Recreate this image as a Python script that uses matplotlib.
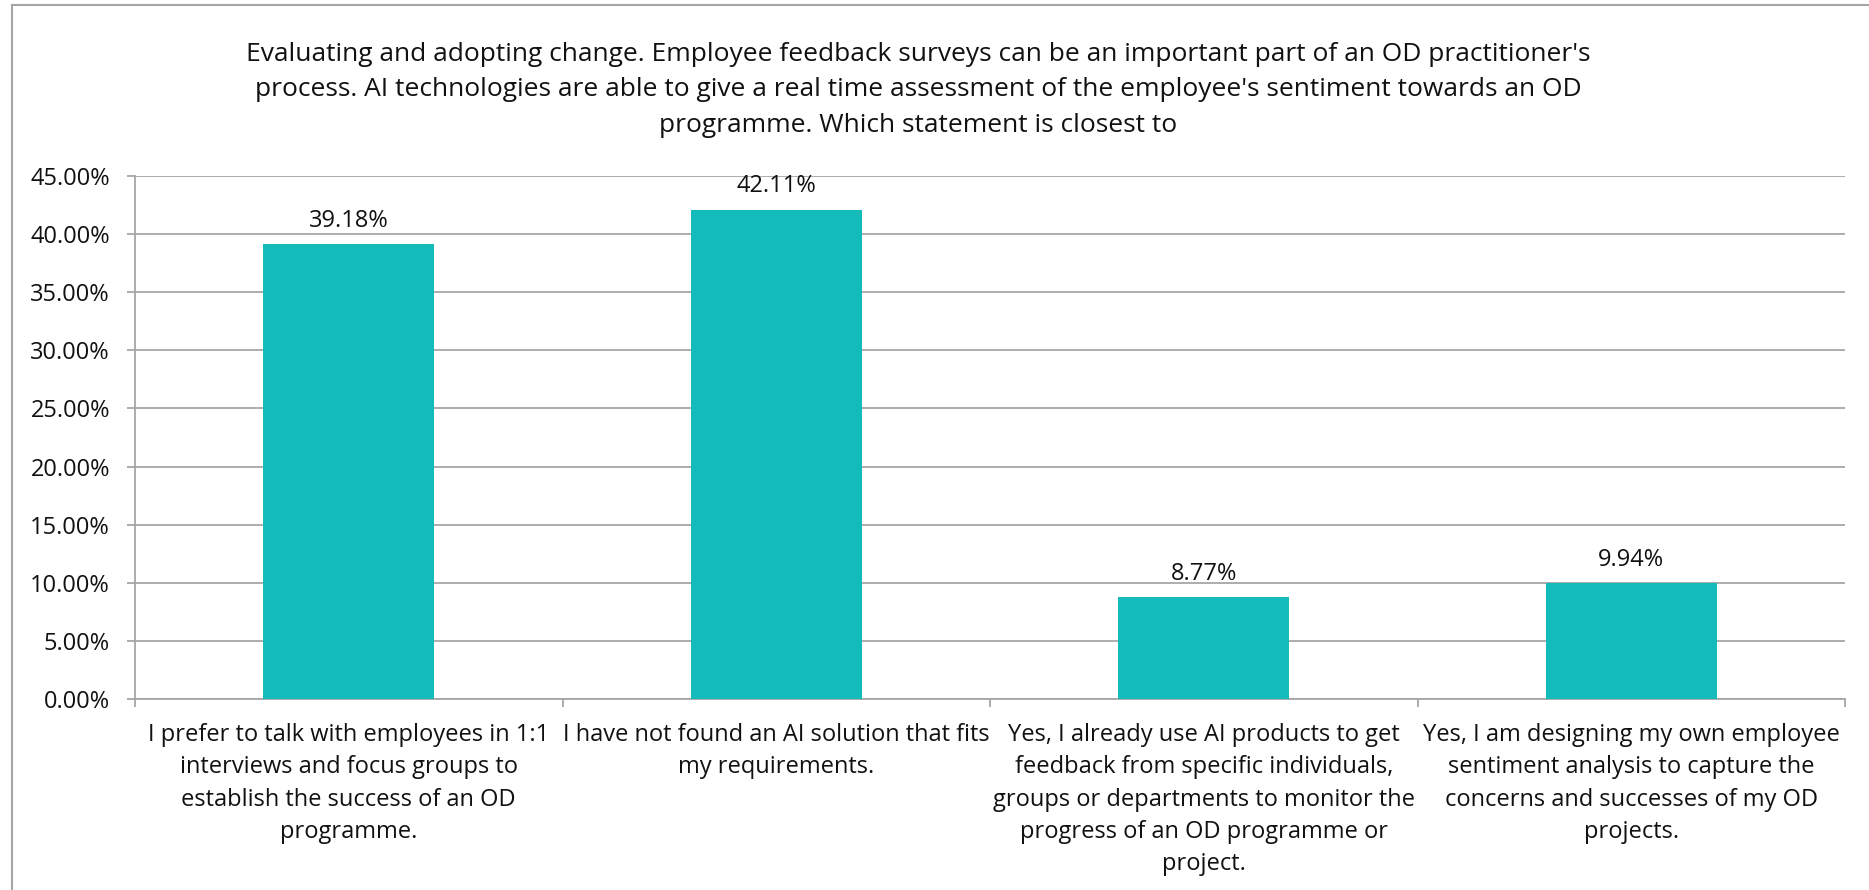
import matplotlib.pyplot as plt
from matplotlib.lines import Line2D
from matplotlib.ticker import FuncFormatter, MultipleLocator

plt.rcParams['font.family'] = ['Open Sans', 'DejaVu Sans']

title = ("Evaluating and adopting change. Employee feedback surveys can be an important part of an OD practitioner's\n"
         "process. AI technologies are able to give a real time assessment of the employee's sentiment towards an OD\n"
         "programme. Which statement is closest to")
categories = [
    "I prefer to talk with employees in 1:1\ninterviews and focus groups to\nestablish the success of an OD\nprogramme.",
    "I have not found an AI solution that fits\nmy requirements.",
    "Yes, I already use AI products to get\nfeedback from specific individuals,\ngroups or departments to monitor the\nprogress of an OD programme or\nproject.",
    "Yes, I am designing my own employee\nsentiment analysis to capture the\nconcerns and successes of my OD\nprojects.",
]
values = [39.18, 42.11, 8.77, 9.94]

bar_color = '#13BBBB'
grid_color = '#A6A6A6'
text_color = '#111111'

fig = plt.figure(figsize=(18.69, 8.90), dpi=100)
ax = fig.add_axes([135 / 1869, 1 - 699 / 890, 1710 / 1869, 523 / 890])

x = list(range(len(values)))
ax.bar(x, values, width=0.4, color=bar_color, zorder=3)
for xi, v in zip(x, values):
    ax.annotate(f"{v:.2f}%", (xi, v), xytext=(0, 8), textcoords='offset points',
                ha='center', va='bottom', fontsize=17, color=text_color)

ax.set_xlim(-0.5, len(values) - 0.5)
ax.set_ylim(0, 45)
ax.yaxis.set_major_locator(MultipleLocator(5))
ax.yaxis.set_major_formatter(FuncFormatter(lambda v, p: f"{v:.2f}%"))
ax.grid(axis='y', color=grid_color, linewidth=1.3, zorder=0)

ax.set_xticks(x)
ax.set_xticklabels(categories, fontsize=17, color=text_color, linespacing=1.47)
ax.set_xticks([i - 0.5 for i in range(len(values) + 1)], minor=True)
ax.tick_params(axis='x', which='major', length=0, pad=17)
ax.tick_params(axis='x', which='minor', length=6, color=grid_color, width=1.3)
ax.tick_params(axis='y', length=6, color=grid_color, width=1.3, labelsize=17,
               labelcolor=text_color, pad=12)

for side in ['top', 'right']:
    ax.spines[side].set_visible(False)
for side in ['left', 'bottom']:
    ax.spines[side].set_color(grid_color)
    ax.spines[side].set_linewidth(1.3)

fig.text(918 / 1869, 1 - 90 / 890, title, ha='center', va='center', fontsize=19,
         color=text_color, linespacing=1.55)

# chart area border (left and top edges visible)
fig.add_artist(Line2D([12 / 1869, 12 / 1869], [0, 1 - 5 / 890], color='#A6A6A6', lw=1.5,
                      transform=fig.transFigure))
fig.add_artist(Line2D([12 / 1869, 1], [1 - 5 / 890, 1 - 5 / 890], color='#A6A6A6', lw=1.5,
                      transform=fig.transFigure))

fig.savefig('out.png', dpi=100, facecolor='white')
